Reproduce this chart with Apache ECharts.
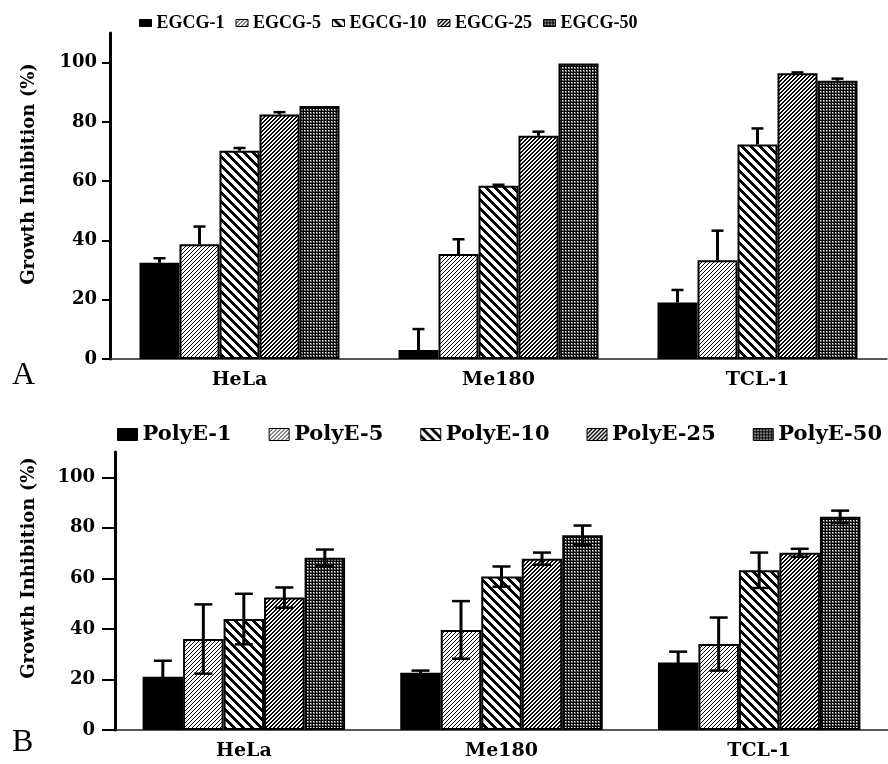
<!DOCTYPE html>
<html><head><meta charset="utf-8">
<script src="https://cdn.jsdelivr.net/npm/echarts@6/dist/echarts.min.js"></script>
<style>html,body{margin:0;padding:0;background:#fff}#c{width:888px;height:764px}</style>
</head><body><div id="c"></div>
<script>
// ---------- data ----------
const categories = ['HeLa', 'Me180', 'TCL-1'];
const yTicks = [0, 20, 40, 60, 80, 100];

const egcgNames = ['EGCG-1', 'EGCG-5', 'EGCG-10', 'EGCG-25', 'EGCG-50'];
const egcg1  = [32.5, 3.0, 19.1];
const egcg5  = [38.7, 35.4, 33.3];
const egcg10 = [70.3, 58.5, 72.4];
const egcg25 = [82.5, 75.3, 96.4];
const egcg50 = [85.4, 99.7, 93.9];
const egcg1Err  = [1.5, 7.1, 4.2];
const egcg5Err  = [6.0, 5.0, 10.0];
const egcg10Err = [0.9, 0.3, 5.4];
const egcg25Err = [0.8, 1.4, 0.3];
const egcg50Err = [0.0, 0.0, 0.7];

const polyNames = ['PolyE-1', 'PolyE-5', 'PolyE-10', 'PolyE-25', 'PolyE-50'];
const poly1  = [21.1, 22.7, 26.7];
const poly5  = [36.0, 39.6, 34.0];
const poly10 = [43.9, 60.7, 63.2];
const poly25 = [52.4, 67.8, 70.1];
const poly50 = [68.2, 77.1, 84.4];
const poly1Err  = [6.3, 0.8, 4.3];
const poly5Err  = [13.7, 11.4, 10.5];
const poly10Err = [10.0, 4.0, 7.0];
const poly25Err = [4.0, 2.4, 1.6];
const poly50Err = [3.2, 3.8, 2.4];

// ---------- patterns ----------
function makePattern(size, fn) {
  const c = document.createElement('canvas');
  c.width = size; c.height = size;
  const ctx = c.getContext('2d');
  const img = ctx.createImageData(size, size);
  for (let y = 0; y < size; y++) for (let x = 0; x < size; x++) {
    const v = fn(x, y);
    const i = (y * size + x) * 4;
    img.data[i] = v; img.data[i+1] = v; img.data[i+2] = v; img.data[i+3] = 255;
  }
  ctx.putImageData(img, 0, 0);
  return { image: c, repeat: 'repeat' };
}
const fills = [
  '#000000',
  makePattern(4, (x, y) => ((x + y) % 4 === 3 ? 0 : 255)),
  makePattern(9, (x, y) => ((((x - y) % 9) + 9) % 9 < 4 ? 0 : 255)),
  makePattern(4, (x, y) => ((x + y) % 4 < 2 ? 0 : 255)),
  makePattern(3, (x, y) => (x === 0 || y === 0) ? 0 : ((x === 1 && y === 1) ? 255 : 110))
];

const serifB = 'DejaVu Serif';
const timesB = 'Liberation Serif';

function barSeries(names, vals, axisIdx, bw) {
  return names.map((n, k) => ({
    name: n, type: 'bar', xAxisIndex: axisIdx, yAxisIndex: axisIdx,
    data: vals[k], barWidth: bw, barGap: '0%',
    itemStyle: { color: fills[k], borderColor: '#000', borderWidth: 2 },
    emphasis: { disabled: true }
  }));
}

function errSeries(vals, errs, axisIdx, bw, both, capHalf) {
  const data = [];
  vals.forEach((arr, k) => arr.forEach((v, c) => data.push([c, v, errs[k][c], k])));
  return {
    type: 'custom', xAxisIndex: axisIdx, yAxisIndex: axisIdx, z: 5, data,
    renderItem: function (params, api) {
      const cat = api.value(0), v = api.value(1), e = api.value(2), k = api.value(3);
      if (e <= 0) return null;
      const p = api.coord([cat, v]);
      const hi = api.coord([cat, v + e]);
      const lo = both ? api.coord([cat, v - e]) : p;
      const x = p[0] + (k - 2) * bw;
      const ch = [
        { type: 'line', shape: { x1: x, y1: lo[1], x2: x, y2: hi[1] }, style: { stroke: '#000', lineWidth: 3 } },
        { type: 'line', shape: { x1: x - capHalf, y1: hi[1], x2: x + capHalf, y2: hi[1] }, style: { stroke: '#000', lineWidth: 2.5 } }
      ];
      if (both) ch.push({ type: 'line', shape: { x1: x - capHalf, y1: lo[1], x2: x + capHalf, y2: lo[1] }, style: { stroke: '#000', lineWidth: 2.5 } });
      return { type: 'group', children: ch };
    }
  };
}

function xAx(idx) {
  return {
    type: 'category', gridIndex: idx, data: categories,
    axisLine: { lineStyle: { color: '#222', width: 1.5 } },
    axisTick: { length: 3, lineStyle: { color: '#000', width: 2 } },
    axisLabel: { margin: 12, color: '#000', fontFamily: serifB, fontWeight: 'bold', fontSize: 19 }
  };
}
function yAx(idx, tickLen, margin, nameGap, pad) {
  return {
    type: 'value', gridIndex: idx, min: 0, max: 110, interval: 20,
    name: 'Growth Inhibition (%)', nameLocation: 'middle', nameGap: nameGap,
    nameTextStyle: { color: '#000', fontFamily: serifB, fontWeight: 'bold', fontSize: 18, padding: [0, 0, 0, pad] },
    splitLine: { show: false },
    axisLine: { show: true, lineStyle: { color: '#000', width: 3 } },
    axisTick: { show: true, length: tickLen, lineStyle: { color: '#000', width: 2 }, customValues: yTicks },
    axisLabel: { margin: margin, color: '#000', fontFamily: serifB, fontWeight: 'bold', fontSize: 18, customValues: yTicks }
  };
}

const chart = echarts.init(document.getElementById('c'), null, { renderer: 'canvas' });
const topVals = [egcg1, egcg5, egcg10, egcg25, egcg50];
const topErrs = [egcg1Err, egcg5Err, egcg10Err, egcg25Err, egcg50Err];
const botVals = [poly1, poly5, poly10, poly25, poly50];
const botErrs = [poly1Err, poly5Err, poly10Err, poly25Err, poly50Err];

chart.setOption({
  animation: false,
  backgroundColor: '#fff',
  legend: [
    { data: egcgNames, left: 139, top: 14, padding: 0, itemWidth: 12, itemHeight: 7, itemGap: 11,
      icon: 'rect', itemStyle: { borderWidth: 1 },
      textStyle: { color: '#000', fontFamily: timesB, fontWeight: 'bold', fontSize: 18 } },
    { data: polyNames, left: 117, top: 424, padding: 0, itemWidth: 20, itemHeight: 12, itemGap: 37,
      icon: 'rect', itemStyle: { borderWidth: 1 },
      textStyle: { color: '#000', fontFamily: serifB, fontWeight: 'bold', fontSize: 21 } }
  ],
  grid: [
    { left: 110, top: 33, width: 777, height: 326 },
    { left: 115, top: 452, width: 786, height: 278 }
  ],
  xAxis: [xAx(0), xAx(1)],
  yAxis: [yAx(0, 8, 13, 72, 44), yAx(1, 13, 20, 77, 46)],
  graphic: [
    { type: 'text', left: 12, top: 360, style: { text: 'A', font: '32px "Liberation Serif"', fill: '#000' } },
    { type: 'text', left: 12, top: 727, style: { text: 'B', font: '32px "Liberation Serif"', fill: '#000' } }
  ],
  series: [
    ...barSeries(egcgNames, topVals, 0, 40),
    ...barSeries(polyNames, botVals, 1, 40.5),
    errSeries(topVals, topErrs, 0, 40, false, 6),
    errSeries(botVals, botErrs, 1, 40.5, true, 9)
  ]
});
</script></body></html>
